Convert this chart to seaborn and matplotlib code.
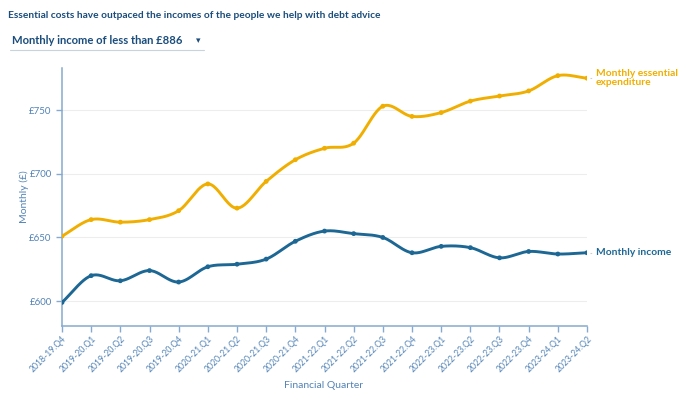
import numpy as np
import pandas as pd
import matplotlib
matplotlib.use("Agg")
import matplotlib.pyplot as plt
from matplotlib import font_manager
import seaborn as sns

quarters = [
    "2018-19.Q4",
    "2019-20.Q1", "2019-20.Q2", "2019-20.Q3", "2019-20.Q4",
    "2020-21.Q1", "2020-21.Q2", "2020-21.Q3", "2020-21.Q4",
    "2021-22.Q1", "2021-22.Q2", "2021-22.Q3", "2021-22.Q4",
    "2022-23.Q1", "2022-23.Q2", "2022-23.Q3", "2022-23.Q4",
    "2023-24.Q1", "2023-24.Q2",
]
expenditure = [651, 664, 662, 664, 671, 692, 673, 694, 711, 720,
               724, 753, 745, 748, 757, 761, 765, 777, 775]
income = [599, 620, 616, 624, 615, 627, 629, 633, 647, 655,
          653, 650, 638, 643, 642, 634, 639, 637, 638]
y_ticks = [600, 650, 700, 750]
y_tick_labels = ["£600", "£650", "£700", "£750"]

YELLOW = "#f0ae00"
BLUE = "#1d6794"
TITLE = "#1a4d7c"
TICK = "#5283b6"
AXIS = "#86aacd"

sns.set_theme(style="white")
plt.rcParams["font.family"] = ["Lato", "DejaVu Sans"]

# Condensed face for the headline when one is installed
installed = {f.name for f in font_manager.fontManager.ttflist}
HEAD_FONT = ["Liberation Sans Narrow"] if "Liberation Sans Narrow" in installed else ["Lato"]


def smooth(xs, ys, n=24):
    """Catmull-Rom curve through the given points."""
    xs = np.asarray(xs, float)
    ys = np.asarray(ys, float)
    px = np.concatenate([[2 * xs[0] - xs[1]], xs, [2 * xs[-1] - xs[-2]]])
    py = np.concatenate([[2 * ys[0] - ys[1]], ys, [2 * ys[-1] - ys[-2]]])
    out_x, out_y = [], []
    t = np.linspace(0, 1, n, endpoint=False)
    for i in range(1, len(px) - 2):
        for arr, out in ((px, out_x), (py, out_y)):
            p0, p1, p2, p3 = arr[i - 1], arr[i], arr[i + 1], arr[i + 2]
            out.extend(0.5 * ((2 * p1) + (-p0 + p2) * t
                              + (2 * p0 - 5 * p1 + 4 * p2 - p3) * t ** 2
                              + (-p0 + 3 * p1 - 3 * p2 + p3) * t ** 3))
    out_x.append(xs[-1])
    out_y.append(ys[-1])
    return np.array(out_x), np.array(out_y)


def fit_width(fig, txt, width_px):
    """Scale a text's font size so that it spans the given pixel width."""
    renderer = fig.canvas.get_renderer()
    w = txt.get_window_extent(renderer).width
    txt.set_fontsize(txt.get_fontsize() * width_px / w)


pos = np.arange(len(quarters))
fig = plt.figure(figsize=(6.83, 3.94), dpi=100)
ax = fig.add_axes([62 / 683, 1 - 326 / 394, (587 - 62) / 683, (326 - 68) / 394])

for values, color in ((expenditure, YELLOW), (income, BLUE)):
    sx, sy = smooth(pos, values)
    curve = pd.DataFrame({"x": sx, "y": sy})
    sns.lineplot(data=curve, x="x", y="y", sort=False, color=color,
                 linewidth=2.1, ax=ax, zorder=3)
    pts = pd.DataFrame({"x": pos, "y": values})
    sns.scatterplot(data=pts, x="x", y="y", color=color, s=12,
                    edgecolor="none", ax=ax, zorder=4)

ax.set_xlim(0, len(quarters) - 1)
ax.set_ylim(580.5, 783)
ax.set_yticks(y_ticks)
ax.set_yticklabels(y_tick_labels)
ax.set_xticks(pos)
ax.set_xticklabels(quarters, rotation=45, ha="right", rotation_mode="anchor")
ax.grid(axis="y", color="#ededed", linewidth=0.8)
ax.set_axisbelow(True)
ax.tick_params(axis="both", colors=AXIS, labelcolor=TICK, labelsize=7,
               length=4, width=1, direction="out", bottom=True, left=True)
ax.tick_params(axis="x", labelsize=6.2, pad=2)
for side in ("top", "right"):
    ax.spines[side].set_visible(False)
for side in ("left", "bottom"):
    ax.spines[side].set_color(AXIS)
    ax.spines[side].set_linewidth(1.1)
ax.set_xlabel("")
ax.set_ylabel("Monthly (£)", color=TICK, fontsize=7.5)
ax.yaxis.set_label_coords(-0.062, 0.5)
fig.text(324 / 683, 1 - 385 / 394, "Financial Quarter", color=TICK, fontsize=7.5,
         ha="center", va="center")

# End-of-line series labels
last = len(quarters) - 1
for value, text, color in ((expenditure[-1], "Monthly essential\nexpenditure", YELLOW),
                           (income[-1], "Monthly income", BLUE)):
    ax.annotate(text, xy=(last, value), xytext=(6.5, 0), textcoords="offset points",
                color=color, fontsize=7.4, fontweight="bold", va="center",
                ha="left", annotation_clip=False, linespacing=0.95)
    ax.plot([last + 0.1, last + 0.22], [value, value], color="#cccccc",
            linewidth=0.8, linestyle=(0, (1.5, 1.5)), clip_on=False)

title = fig.text(8 / 683, 1 - 16 / 394,
                 "Essential costs have outpaced the incomes of the people we help with debt advice",
                 color=TITLE, fontsize=9, fontweight="bold", va="center", ha="left",
                 family=HEAD_FONT)
fit_width(fig, title, 368)

selector = fig.text(12 / 683, 1 - 41 / 394, "Monthly income of less than £886",
                    color=TITLE, fontsize=8.4, fontweight="bold", va="center", ha="left")
fit_width(fig, selector, 171)
fig.text(196 / 683, 1 - 41 / 394, "▾", color=TITLE, fontsize=6.5, va="center",
         ha="left", family=["DejaVu Sans"])
fig.add_artist(plt.Line2D([10 / 683, 204 / 683], [1 - 50 / 394, 1 - 50 / 394],
                          color="#c8d3dd", linewidth=0.8))

fig.savefig("out.png", dpi=100)
